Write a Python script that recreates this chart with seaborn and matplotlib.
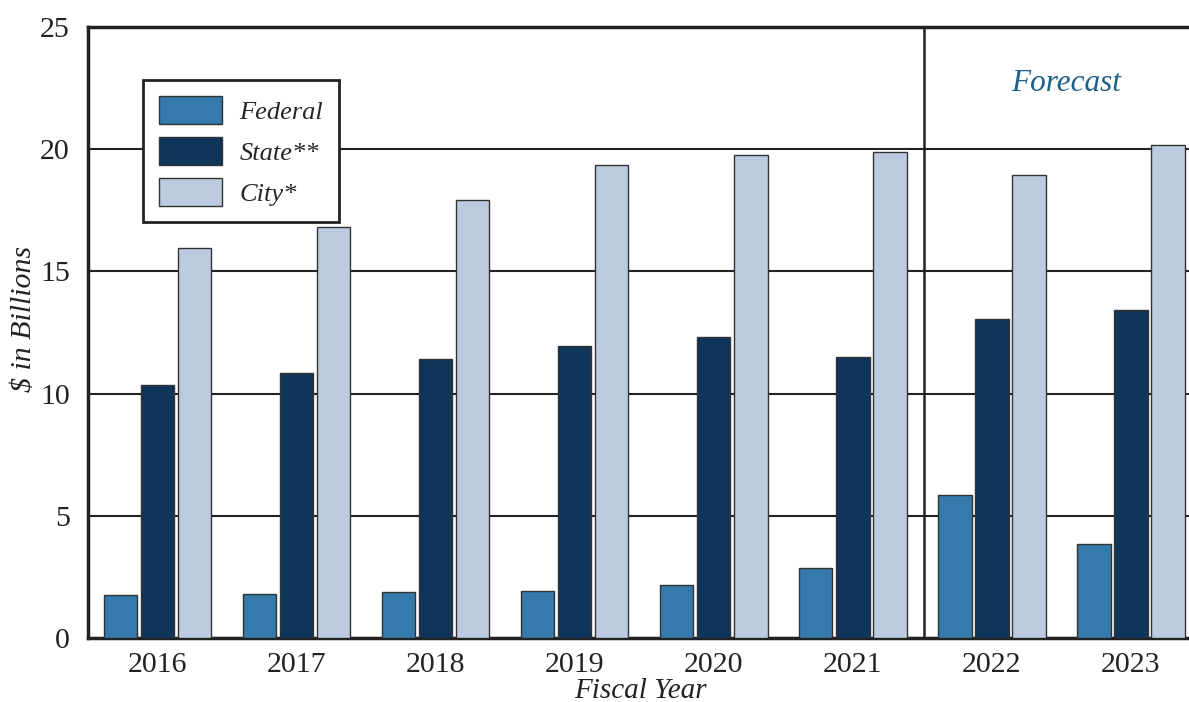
import pandas as pd
import matplotlib.pyplot as plt
import seaborn as sns

# --- dados ---
anos = ['2016', '2017', '2018', '2019', '2020', '2021', '2022', '2023']
federal = [1.76, 1.80, 1.88, 1.92, 2.17, 2.86, 5.85, 3.85]
state = [10.35, 10.84, 11.42, 11.95, 12.32, 11.50, 13.05, 13.42]
city = [15.96, 16.82, 17.92, 19.35, 19.76, 19.89, 18.94, 20.17]
series = ['Federal', 'State**', 'City*']
cores = ['#3579ad', '#10355a', '#bccbdf']

df = pd.DataFrame({'Ano': anos, 'Federal': federal, 'State**': state, 'City*': city})
df_long = df.melt(id_vars='Ano', var_name='Fonte', value_name='Valor')

sns.set_theme(style="white")
plt.rcParams['font.family'] = ['Liberation Serif', 'DejaVu Serif']

fig = plt.figure(figsize=(11.89, 7.02), dpi=100)
# o eixo passa um pouco da borda direita, como no original (recortado)
ax = fig.add_axes([0.074, 0.0912, 0.9357, 0.8703])

sns.barplot(data=df_long, x='Ano', y='Valor', hue='Fonte', hue_order=series,
            palette=cores, width=0.8, gap=0.1, edgecolor='#333333',
            linewidth=1.0, saturation=1, ax=ax, zorder=3)

ax.set_ylim(0, 25)
ax.set_xlim(-0.5, 7.5)
ax.set_yticks([0, 5, 10, 15, 20, 25])
ax.yaxis.grid(True, color='#222222', linewidth=1.5, zorder=0)
ax.set_axisbelow(True)

for lado in ['left', 'top', 'bottom', 'right']:
    ax.spines[lado].set_linewidth(2.5)
    ax.spines[lado].set_color('#222222')

ax.tick_params(axis='both', length=0, labelsize=21.5, colors='#222222')
ax.tick_params(axis='y', pad=13)
ax.tick_params(axis='x', pad=10)

ax.set_xlabel('Fiscal Year', fontsize=21, style='italic', color='#222222')
ax.set_ylabel('$ in Billions', fontsize=21.5, style='italic', color='#222222')
ax.xaxis.set_label_coords(0.497, -0.066)
ax.yaxis.set_label_coords(-0.046, 0.522)

# linha de previsão
ax.axvline(5.51, color='#222222', linewidth=1.8, zorder=2)
ax.text(6.53, 22.7, 'Forecast', fontsize=22.5, style='italic', color='#1f5f8b',
        ha='center', va='center')

leg = ax.legend(loc='upper left', bbox_to_anchor=(0.0494, 0.913),
                prop={'style': 'italic', 'size': 19}, frameon=True, fancybox=False,
                framealpha=1, edgecolor='#222222', handlelength=2.4,
                handleheight=1.25, labelspacing=0.5, handletextpad=0.65,
                borderpad=0.6, borderaxespad=0)
leg.get_frame().set_linewidth(2)
leg.set_zorder(5)

plt.savefig('out.png', dpi=100)
plt.close()
